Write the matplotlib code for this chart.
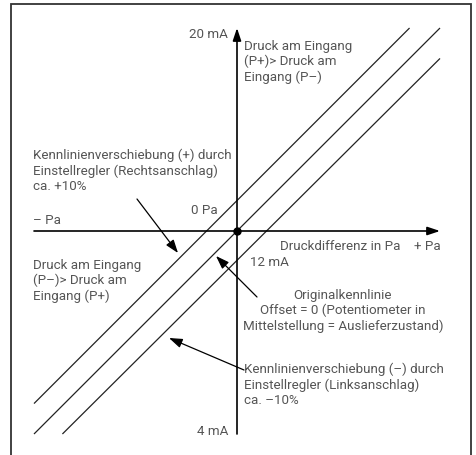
import matplotlib

matplotlib.use("Agg")
import matplotlib.pyplot as plt
from matplotlib.patches import Rectangle

# pressure difference normalised to -1..1, output current in mA
orig_x = [-1.0, 1.0]
orig_y = [4.0, 20.0]
plus_x = [-1.0, 0.85]
plus_y = [5.2, 20.0]
minus_x = [-0.86, 1.0]
minus_y = [4.0, 18.8]

i_min, i_zero, i_max = 4.0, 12.0, 20.0
p_min, p_max = -1.0, 1.0

TEXT = "#555555"
LINE = "#222222"
FONT = "Roboto"
FS = 9.6

# reference picture: origin at pixel (237, 232), 203 px per half range
PX0, PY0, SCALE = 237.0, 232.0, 203.0


def pos(px, py):
    """pixel position in the 477x456 picture -> data coordinates"""
    return (px - PX0) / SCALE, i_zero + (PY0 - py) / SCALE * (i_max - i_zero)


fig = plt.figure(figsize=(4.77, 4.56), dpi=100)
ax = fig.add_axes([0, 0, 1, 1])
x_lo, y_lo = pos(0, 456)
x_hi, y_hi = pos(477, 0)
ax.set_xlim(x_lo, x_hi)
ax.set_ylim(y_lo, y_hi)
ax.axis("off")

# outer frame
fx0, fy0 = pos(11, 462)
fx1, fy1 = pos(471, 5)
ax.add_patch(Rectangle((fx0, fy0), fx1 - fx0, fy1 - fy0, fill=False,
                       edgecolor="#333333", linewidth=1.3))

# characteristic lines
for xs, ys in [(orig_x, orig_y), (plus_x, plus_y), (minus_x, minus_y)]:
    ax.plot(xs, ys, color=LINE, linewidth=0.9, solid_capstyle="butt")

# axes with filled arrow heads
ax_arrow = dict(arrowstyle="-|>,head_length=0.75,head_width=0.25", color="black",
                linewidth=1.2, shrinkA=0, shrinkB=0)
ax.annotate("", xy=(p_max, i_zero), xytext=(p_min, i_zero), arrowprops=ax_arrow)
ax.annotate("", xy=(0, i_max), xytext=(0, i_min), arrowprops=ax_arrow)
ax.plot([0], [i_zero], "o", color="black", markersize=5)

# pointer arrows
ptr = dict(arrowstyle="-|>,head_length=0.8,head_width=0.28", color="black",
           linewidth=0.9, shrinkA=0, shrinkB=0)
ax.annotate("", xy=pos(178, 254), xytext=pos(137, 200), arrowprops=ptr)
ax.annotate("", xy=pos(216, 257), xytext=pos(257, 298), arrowprops=ptr)
ax.annotate("", xy=pos(169, 339), xytext=pos(244, 371), arrowprops=ptr)

txt = dict(color=TEXT, fontsize=FS, family=FONT, linespacing=1.2)

ax.text(*pos(228, 34), "20 mA", ha="right", va="center", **txt)
ax.text(*pos(228, 432), "4 mA", ha="right", va="center", **txt)
ax.text(*pos(218, 211), "0 Pa", ha="right", va="center", **txt)
ax.text(*pos(250, 263), "12 mA", ha="left", va="center", **txt)
ax.text(*pos(33, 220), "– Pa", ha="left", va="center", **txt)
ax.text(*pos(441, 247), "+ Pa", ha="right", va="center", **txt)
ax.text(*pos(280, 247), "Druckdifferenz in Pa", ha="left", va="center", **txt)

ax.text(*pos(244, 40), "Druck am Eingang\n(P+)> Druck am\nEingang (P–)",
        ha="left", va="top", **txt)
ax.text(*pos(33, 259), "Druck am Eingang\n(P–)> Druck am\nEingang (P+)",
        ha="left", va="top", **txt)
ax.text(*pos(33, 149),
        "Kennlinienverschiebung (+) durch\nEinstellregler (Rechtsanschlag)\nca. +10%",
        ha="left", va="top", **txt)
ax.text(*pos(343, 289),
        "Originalkennlinie\nOffset = 0 (Potentiometer in\nMittelstellung = Auslieferzustand)",
        ha="center", va="top", multialignment="center", **txt)
ax.text(*pos(244, 363),
        "Kennlinienverschiebung (–) durch\nEinstellregler (Linksanschlag)\nca. –10%",
        ha="left", va="top", **txt)

fig.savefig("out.png", dpi=100)
